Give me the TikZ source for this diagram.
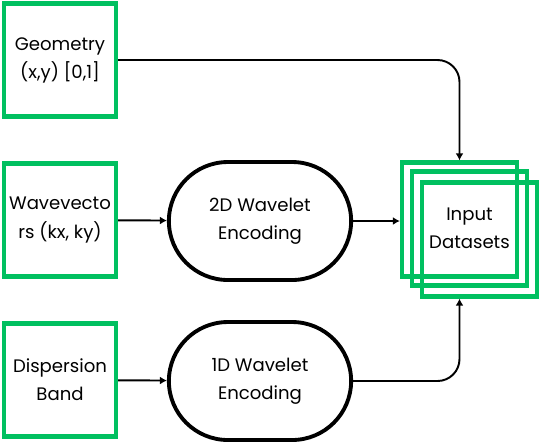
\documentclass[tikz,border=0pt]{standalone}
\usepackage{fontspec}
\setmainfont{Poppins}
\usetikzlibrary{shapes.misc,arrows.meta}
\definecolor{boxgreen}{RGB}{0,192,96}
\begin{document}
\begin{tikzpicture}[x=0.02cm, y=-0.02cm,
			font=\fontsize{10.3}{16}\selectfont,
			inbox/.style={draw=boxgreen, line width=2.4pt, minimum width=2.24cm, minimum height=2.26cm, align=center, inner sep=0pt},
			enc/.style={rounded rectangle, draw=black, line width=2.2pt, minimum width=3.88cm, minimum height=2.36cm, align=center},
			stack/.style={draw=boxgreen, line width=2.4pt, minimum width=2.3cm, minimum height=2.28cm, align=center, inner sep=0pt},
			conn/.style={line width=1.1pt, rounded corners=0.44cm, -{Latex[length=4pt,width=4.5pt]}}]
			\useasboundingbox (0,0) rectangle (540,441);
			% inputs on the left
			\node[inbox] (geom) at (60,60)  {Geometry\\(x,y) [0,1]};
			\node[inbox] (wave) at (60,220) {Wavevecto\\rs (kx, ky)};
			\node[inbox] (disp) at (60,380) {Dispersion\\Band};
			% encoders
			\node[enc] (enc2d) at (260,221) {2D Wavelet\\Encoding};
			\node[enc] (enc1d) at (260,381) {1D Wavelet\\Encoding};
			% stacked datasets
			\node[stack] (data1) at (459.5,219.5) {};
			\node[stack] (data2) at (469.5,228.5) {Input\\Datasets};
			\node[stack] (data3) at (479.5,239.5) {};
			\draw[conn] (geom.east) -| (data1.north);
			\draw[conn] (wave) -- (enc2d);
			\draw[conn] (enc2d.east) -- (data1.west |- enc2d.east);
			\draw[conn] (disp) -- (enc1d);
			\draw[conn] (enc1d.east) -| (data1.south |- data3.south);
		\end{tikzpicture}
\end{document}
